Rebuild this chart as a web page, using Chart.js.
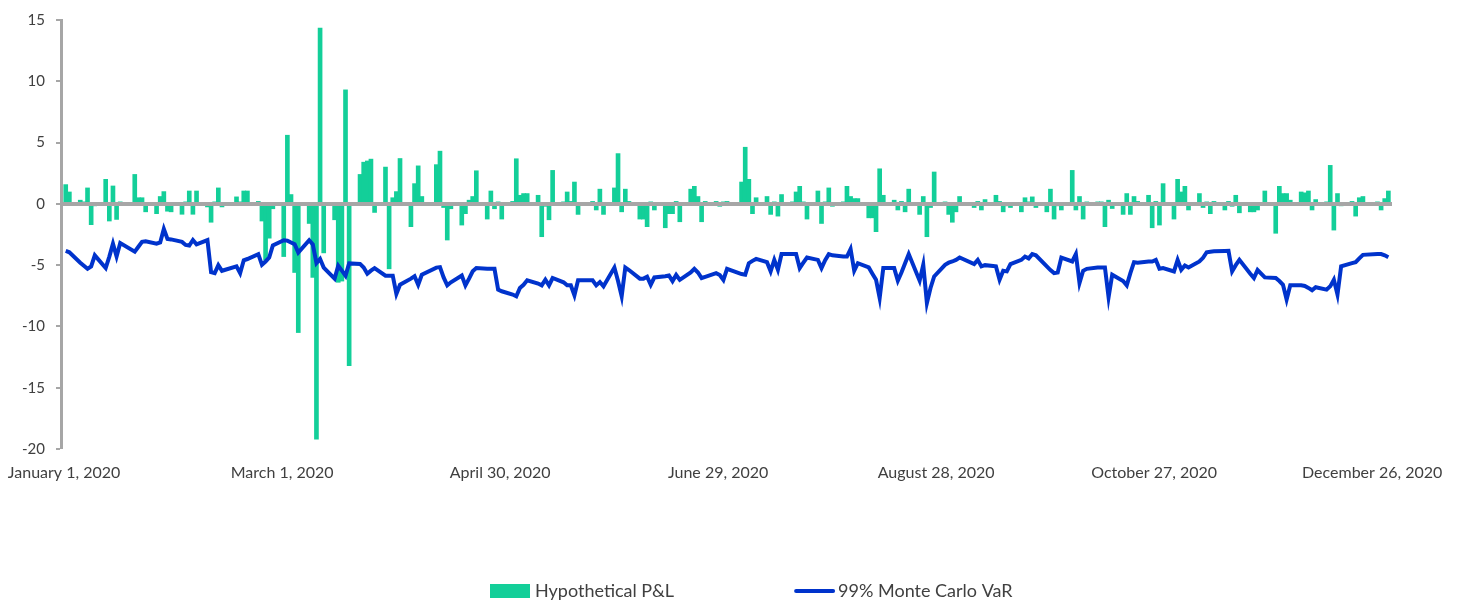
<!DOCTYPE html>
<html>
<head>
<meta charset="utf-8">
<title>Hypothetical P&amp;L vs 99% Monte Carlo VaR, 2020</title>
<script src="https://cdn.jsdelivr.net/npm/chart.js@4.4.1/dist/chart.umd.min.js"></script>
<style>
  html, body { margin: 0; padding: 0; background: #ffffff; }
  #wrap { width: 1460px; height: 602px; }
</style>
</head>
<body>
<div id="wrap"><canvas id="chart" width="1460" height="602"></canvas></div>
<script>
// Trading calendar for 2020 (US market holidays are skipped)
const year = 2020;
const holidays = ['2020-01-01', '2020-01-20', '2020-02-17', '2020-04-10', '2020-05-25',
                  '2020-07-03', '2020-09-07', '2020-11-26', '2020-12-25'];

// Daily hypothetical P&L, one array per month (one value per trading day)
const pnlJan = [1.57, 0.97, 0.3, 0.1, 1.3, -1.7, -0.1, 2.0, -1.4, 1.46, -1.27, 0.05, 2.4, 0.5, 0.5, -0.65, -0.8, 0.6, 1.0, -0.6, -0.65];
const pnlFeb = [-0.85, 0.1, 1.05, -0.85, 1.05, -0.25, -1.5, 0.1, 1.3, -0.25, 0.57, 0.05, 1.05, 1.05, 0.2, -1.4, -4.6, -2.8, -0.4];
const pnlMar = [-4.3, 5.6, 0.76, -5.6, -10.5, -1.6, -6.0, -19.2, 14.35, -4.0, -1.3, -6.4, -6.3, 9.3, -13.2, 2.4, 3.4, 3.5, 3.65, -0.7, 3.0, -5.3];
const pnlApr = [0.5, 1.0, 3.7, -1.86, 1.65, 3.1, 0.6, 3.2, 4.3, -0.3, -2.95, -0.4, -1.73, -0.8, 0.3, 0.6, 2.7, -1.24, 1.05, -0.4, 0.1];
const pnlMay = [-1.24, 0.2, 3.68, 0.7, 0.84, 0.84, 0.7, -2.68, -0.2, -1.3, 2.73, 0.1, 0.97, 0.2, 1.78, -0.86, 0.2, -0.5, 1.2, -0.86];
const pnlJun = [1.3, 4.1, -0.65, 1.2, 0.2, -1.24, -1.24, -1.86, 0.1, -0.5, -1.95, -0.8, -0.8, 0.2, -1.46, 1.2, 1.43, 0.6, -1.46, 0.2, 0.2, -0.2];
const pnlJul = [0.1, 0.2, 1.78, 4.62, 2.0, -0.8, 0.5, 0.6, -0.86, 0.1, -1.0, 0.76, 0.1, 0.97, 1.43, 0.05, -1.24, 1.05, -1.6, 0.1, 1.3, -0.2];
const pnlAug = [0.1, 1.43, 0.6, 0.43, 0.43, -1.14, -1.14, -2.27, 2.86, 0.7, 0.3, -0.5, 0.2, -0.65, 1.2, -0.86, 0.6, -2.68, -0.3, 2.6, 0.1];
const pnlSep = [-0.86, -1.5, -0.65, 0.6, -0.3, 0.2, -0.5, 0.35, 0.7, 0.2, -0.65, -0.1, -0.3, -0.65, 0.5, 0.1, 0.57, -0.3, -0.65, 1.2, -1.24];
const pnlOct = [-0.1, -0.5, 2.73, -0.5, 0.6, -1.24, 0.1, 0.05, 0.1, -1.86, 0.3, -0.38, -0.86, 0.84, -0.86, 0.6, 0.2, 0.7, -1.95, 0.2, -1.73, 1.65];
const pnlNov = [-1.24, 2.0, 0.97, 1.43, -0.5, 0.84, -0.3, 0.1, -0.8, 0.2, -0.5, 0.2, -0.2, 0.7, -0.73, -0.65, -0.65, -0.5, 1.05, -2.4];
const pnlDec = [1.43, 0.84, 0.84, 0.3, 0.97, 0.9, 1.05, -0.5, 0.35, 0.1, 3.14, -2.14, 0.84, -0.1, 0.2, -1.0, 0.5, 0.6, 0.05, -0.5, 0.43, 1.05];

// Daily 99% Monte Carlo VaR, one array per month
const varJan = [-3.84, -3.95, -4.8, -5.05, -5.3, -5.1, -4.2, -5.24, -4.3, -3.25, -4.3, -3.2, -3.9, -3.5, -3.1, -3.05, -3.25, -3.15, -2.05, -2.86, -2.9];
const varFeb = [-3.1, -3.35, -3.4, -2.95, -3.3, -2.95, -5.57, -5.65, -5.0, -5.46, -5.1, -5.65, -4.6, -4.5, -4.1, -4.97, -4.7, -4.38, -3.4];
const varMar = [-2.97, -3.0, -3.15, -3.3, -3.97, -2.97, -3.3, -4.84, -4.5, -5.2, -6.1, -5.05, -5.45, -5.86, -4.86, -4.9, -5.2, -5.7, -5.45, -5.24, -5.86, -5.86];
const varApr = [-5.86, -7.35, -6.6, -6.1, -5.9, -6.6, -5.78, -5.2, -5.16, -6.0, -6.65, -6.4, -5.85, -6.65, -6.1, -5.5, -5.24, -5.3, -5.3, -5.3, -7.0];
const varMay = [-7.13, -7.4, -7.54, -6.86, -6.6, -6.24, -6.5, -6.65, -6.19, -6.65, -6.05, -6.4, -6.65, -6.65, -7.46, -6.24, -6.24, -6.65, -6.38, -6.73];
const varJun = [-5.2, -6.3, -7.54, -5.19, -5.4, -6.1, -6.1, -5.95, -6.6, -6.0, -5.9, -5.84, -6.3, -5.8, -6.2, -5.6, -5.3, -5.6, -6.05, -5.95, -5.65, -5.8];
const varJul = [-6.2, -5.3, -5.73, -5.78, -4.84, -4.65, -4.49, -4.76, -5.51, -4.57, -5.38, -4.1, -4.1, -4.1, -5.24, -4.8, -4.38, -4.57, -5.24, -4.6, -4.1, -4.2];
const varAug = [-4.3, -4.3, -3.68, -5.46, -4.84, -5.19, -5.7, -6.19, -7.68, -5.24, -5.24, -6.27, -5.6, -4.85, -4.1, -6.27, -4.97, -8.08, -6.86, -5.92, -4.97];
const varSep = [-4.8, -4.7, -4.57, -4.38, -4.92, -4.57, -5.1, -5.0, -5.1, -6.19, -5.46, -5.51, -4.92, -4.57, -4.3, -4.45, -4.1, -4.2, -5.1, -5.4, -5.65];
const varOct = [-5.6, -4.38, -4.7, -4.1, -6.46, -5.46, -5.3, -5.2, -5.2, -5.19, -7.62, -5.78, -6.3, -6.65, -5.65, -4.76, -4.8, -4.7, -4.7, -4.57, -5.3, -5.24];
const varNov = [-5.51, -4.57, -5.38, -5.03, -5.19, -4.7, -4.4, -3.95, -3.9, -3.87, -3.85, -3.84, -5.51, -5.0, -4.57, -5.7, -6.05, -5.4, -6.0, -6.05];
const varDec = [-6.3, -6.6, -7.8, -6.65, -6.65, -6.7, -6.86, -7.05, -6.8, -7.0, -6.73, -6.19, -7.4, -5.1, -4.84, -4.76, -4.45, -4.16, -4.1, -4.1, -4.2, -4.35];

// Date axis ticks (day of year, 0 = January 1) and their labels
const xTickDays = [0, 60, 120, 180, 240, 300, 360];
const xTickLabels = ['January 1, 2020', 'March 1, 2020', 'April 30, 2020', 'June 29, 2020',
                     'August 28, 2020', 'October 27, 2020', 'December 26, 2020'];

// Series names
const pnlLabel = 'Hypothetical P&L';
const varLabel = '99% Monte Carlo VaR';

const pnlByMonth = [pnlJan, pnlFeb, pnlMar, pnlApr, pnlMay, pnlJun, pnlJul, pnlAug, pnlSep, pnlOct, pnlNov, pnlDec];
const varByMonth = [varJan, varFeb, varMar, varApr, varMay, varJun, varJul, varAug, varSep, varOct, varNov, varDec];

// Day-of-year numbers of the trading days in a month
function tradingDays(month) {
  const days = [];
  const start = Date.UTC(year, 0, 1);
  const d = new Date(Date.UTC(year, month, 1));
  while (d.getUTCMonth() === month) {
    const wd = d.getUTCDay();
    const iso = d.toISOString().slice(0, 10);
    if (wd !== 0 && wd !== 6 && !holidays.includes(iso)) {
      days.push(Math.round((d.getTime() - start) / 86400000));
    }
    d.setUTCDate(d.getUTCDate() + 1);
  }
  return days;
}

const pnlPoints = [];
const varPoints = [];
for (let m = 0; m < 12; m++) {
  const days = tradingDays(m);
  if (days.length !== pnlByMonth[m].length || days.length !== varByMonth[m].length) {
    console.warn('month', m + 1, 'has', days.length, 'trading days');
  }
  days.forEach((day, i) => {
    if (i < pnlByMonth[m].length) pnlPoints.push({ x: day, y: pnlByMonth[m][i] });
    if (i < varByMonth[m].length) varPoints.push({ x: day, y: varByMonth[m][i] });
  });
}

const pnlColor = '#13cf99';
const varColor = '#0033cc';
const axisGray = '#a6a6a6';
const textColor = '#404040';
const fontFamily = 'Lato, "Open Sans", sans-serif';

// Series key below the plot: filled box for the bars, a short stroke for the line
const seriesKey = {
  id: 'seriesKey',
  afterDraw(chart, args, opts) {
    const ctx = chart.ctx;
    ctx.save();
    ctx.font = `${opts.fontSize}px ${fontFamily}`;
    ctx.textBaseline = 'middle';
    ctx.textAlign = 'left';
    let x = opts.x;
    const y = opts.y;
    ctx.fillStyle = pnlColor;
    ctx.fillRect(x, y - opts.boxHeight / 2, opts.boxWidth, opts.boxHeight);
    x += opts.boxWidth + opts.textGap;
    ctx.fillStyle = textColor;
    ctx.fillText(pnlLabel, x, y);
    x += ctx.measureText(pnlLabel).width + opts.itemGap;
    ctx.strokeStyle = varColor;
    ctx.lineWidth = opts.lineWidth;
    ctx.lineCap = 'round';
    ctx.beginPath();
    ctx.moveTo(x, y);
    ctx.lineTo(x + opts.lineLength, y);
    ctx.stroke();
    x += opts.lineLength + opts.textGap;
    ctx.fillText(varLabel, x, y);
    ctx.restore();
  }
};

new Chart(document.getElementById('chart'), {
  type: 'bar',
  plugins: [seriesKey],
  data: {
    datasets: [
      {
        type: 'line',
        label: varLabel,
        data: varPoints,
        borderColor: varColor,
        backgroundColor: varColor,
        borderWidth: 4,
        pointRadius: 0,
        tension: 0,
        order: 0
      },
      {
        type: 'bar',
        label: pnlLabel,
        data: pnlPoints,
        backgroundColor: pnlColor,
        borderWidth: 0,
        barThickness: 4,
        order: 1
      }
    ]
  },
  options: {
    responsive: false,
    animation: false,
    layout: { padding: { top: 17, right: 68, bottom: 108, left: 0 } },
    plugins: {
      tooltip: { enabled: false },
      legend: { display: false },
      seriesKey: {
        x: 490, y: 591, boxWidth: 40, boxHeight: 14, textGap: 5, itemGap: 122,
        lineLength: 37, lineWidth: 4, fontSize: 18
      }
    },
    scales: {
      x: {
        type: 'linear',
        offset: false,
        min: -0.3,
        max: 366,
        grid: { display: false },
        border: { display: false },
        afterBuildTicks: (scale) => { scale.ticks = xTickDays.map(v => ({ value: v })); },
        afterFit: (scale) => {
          scale.height = 45;
          // the first and last date labels may hang past the plot edges
          scale.paddingLeft = 0;
          scale.paddingRight = 0;
        },
        ticks: {
          autoSkip: false,
          maxRotation: 0,
          padding: 6,
          labelOffset: 2,
          color: textColor,
          font: { family: fontFamily, size: 16 },
          callback: (value) => xTickLabels[xTickDays.indexOf(value)]
        }
      },
      y: {
        min: -20,
        max: 15,
        afterFit: (scale) => { scale.width = 61; },
        ticks: {
          stepSize: 5,
          padding: 11,
          color: textColor,
          font: { family: fontFamily, size: 15 }
        },
        grid: {
          z: 1,
          color: (ctx) => (ctx.tick && ctx.tick.value === 0 ? axisGray : 'rgba(0,0,0,0)'),
          lineWidth: (ctx) => (ctx.tick && ctx.tick.value === 0 ? 4 : 0),
          tickColor: axisGray,
          tickLength: 5,
          tickWidth: 2
        },
        border: { color: axisGray, width: 3, z: 1 }
      }
    }
  }
});
</script>
</body>
</html>
